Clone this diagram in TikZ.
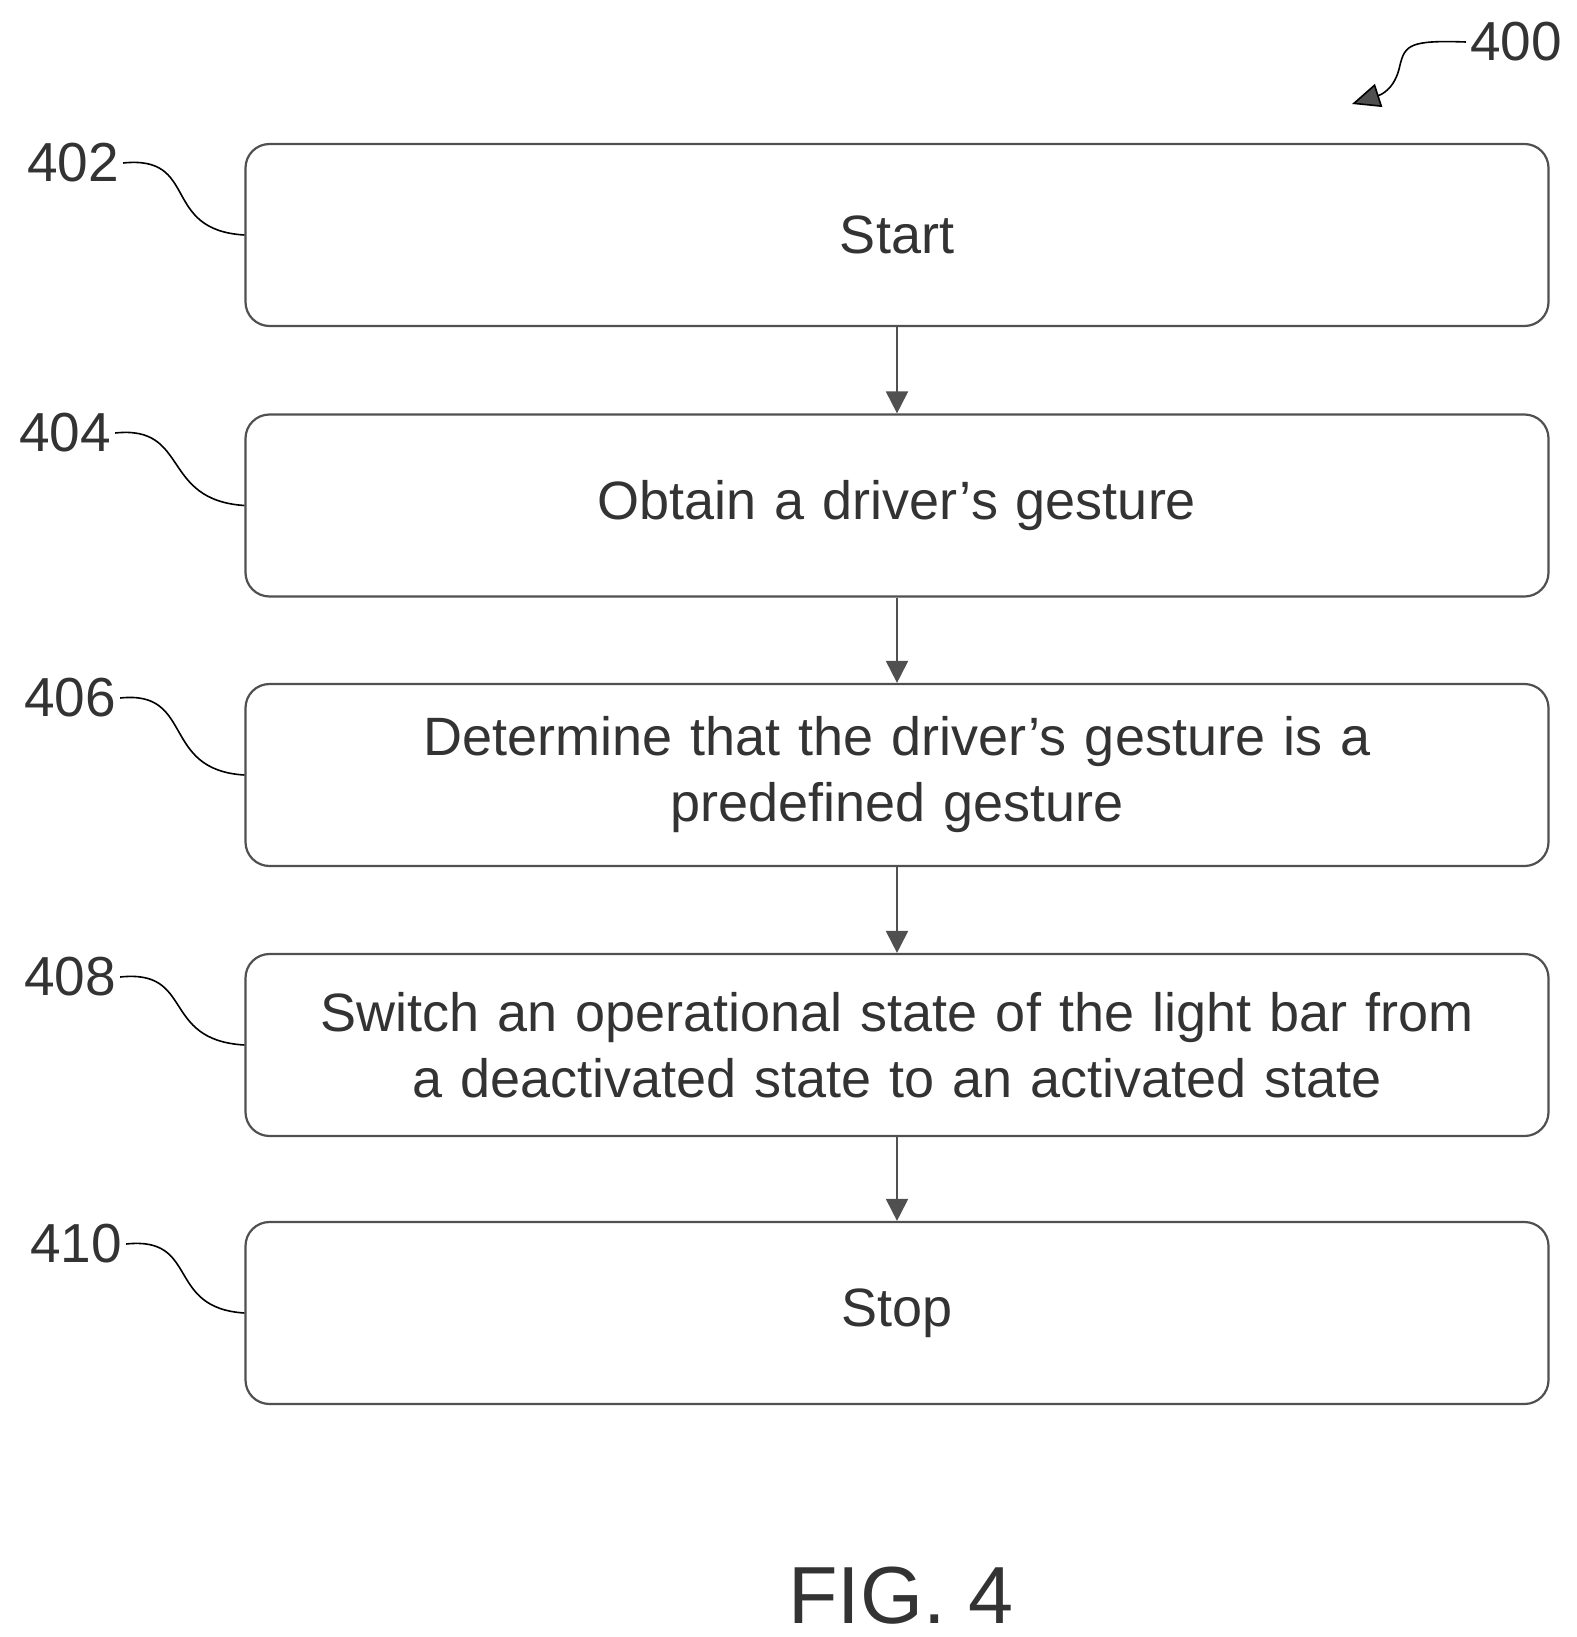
\documentclass[tikz,border=0pt]{standalone}
\usepackage{fontspec}
\setmainfont{Liberation Sans}
\usetikzlibrary{arrows.meta, positioning}
\definecolor{linegray}{RGB}{80,80,80}
\tikzset{
  stepbox/.style={draw=linegray, line width=2.2pt, rounded corners=24pt, minimum width=1303pt,
    minimum height=182pt, align=center, text width=1260pt, font=\fontsize{54}{66}\selectfont, text=black!80},
  flow/.style={draw=linegray, line width=2pt, -{Triangle[length=22pt,width=22pt]}},
  lead/.style={draw=black, line width=1.6pt},
  ref/.style={font=\fontsize{55}{60}\selectfont, text=black!80, inner sep=4pt}
}
\begin{document}
\begin{tikzpicture}[x=1pt,y=-1pt]
\useasboundingbox (0,0) rectangle (1576,1637);

% Steps
\node[stepbox] (start) at (897,235) {Start};
\node[stepbox] (obtain) at (897,505.5) {Obtain a driver’s gesture};
\node[stepbox] (determine) at (897,775) {Determine that the driver’s gesture is a\\predefined gesture};
\node[stepbox] (switch) at (897,1045) {Switch an operational state of the light bar from\\a deactivated state to an activated state};
\node[stepbox] (stop) at (897,1313) {Stop};

\draw[flow] (start) -- (obtain);
\draw[flow] (obtain) -- (determine);
\draw[flow] (determine) -- (switch);
\draw[flow] (switch) -- (stop);

% Reference numerals
\node[ref] (n402) at (73,163) {402};
\node[ref] (n404) at (65,433) {404};
\node[ref] (n406) at (70,698) {406};
\node[ref] (n408) at (70,977) {408};
\node[ref] (n410) at (76,1244) {410};
\draw[lead] (n402.east) .. controls (200,155) and (160,230) .. (start.west);
\draw[lead] (n404.east) .. controls (190,425) and (160,500) .. (obtain.west);
\draw[lead] (n406.east) .. controls (195,690) and (160,770) .. (determine.west);
\draw[lead] (n408.east) .. controls (195,969) and (160,1040) .. (switch.west);
\draw[lead] (n410.east) .. controls (200,1236) and (165,1308) .. (stop.west);

\node[ref] (n400) at (1516,42) {400};
\coordinate (fig) at (1352,104);
\draw[lead, -{Triangle[length=28pt,width=24pt,fill=linegray]}] (n400.west) .. controls (1410,40) and (1405,45) .. (1400,65) .. controls (1395,90) and (1380,95) .. (fig);

\node[font=\fontsize{81}{90}\selectfont, text=black!80] (title) at (901,1596) {FIG. 4};
\end{tikzpicture}
\end{document}
